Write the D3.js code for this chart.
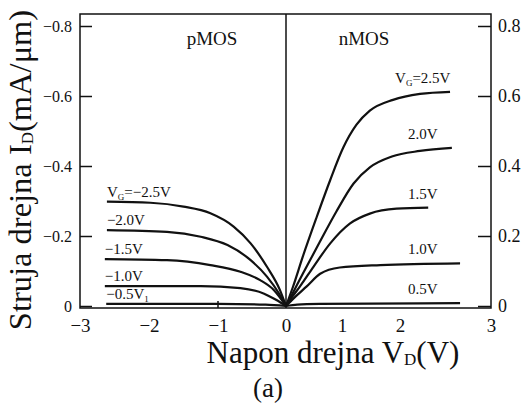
<!DOCTYPE html>
<html>
<head>
<meta charset="utf-8">
<script src="https://cdn.jsdelivr.net/npm/d3@7"></script>
<style>
body { margin: 0; background: #fff; }
text { font-family: "Liberation Serif", "Times New Roman", serif; fill: #111; }
</style>
</head>
<body>
<svg></svg>
<script>
width = 527;
height = 407;

// drain voltage V_D (V) and drain current I_D (mA/um)
nmos25 = [[0, 0], [0.125, 0.055], [0.3, 0.141], [0.55, 0.255], [0.79, 0.36], [1.02, 0.452], [1.25, 0.518], [1.48, 0.558], [1.88, 0.589], [2.22, 0.606], [2.55, 0.612]];
nmos20 = [[0, 0], [0.15, 0.046], [0.3, 0.092], [0.6, 0.182], [0.9, 0.27], [1.2, 0.35], [1.48, 0.396], [1.86, 0.427], [2.22, 0.443], [2.57, 0.452]];
nmos15 = [[0, 0], [0.12, 0.028], [0.25, 0.056], [0.49, 0.112], [0.79, 0.179], [1.14, 0.236], [1.48, 0.264], [1.94, 0.278], [2.31, 0.281]];
nmos10 = [[0, 0], [0.15, 0.024], [0.37, 0.056], [0.61, 0.092], [0.96, 0.11], [1.66, 0.117], [2.66, 0.122]];
nmos05 = [[0, 0], [0.2, 0.004], [0.6, 0.006], [1.5, 0.007], [2.66, 0.008]];

pmos25 = [[-2.61, -0.298], [-1.98, -0.295], [-1.5, -0.284], [-1.11, -0.265], [-0.77, -0.227], [-0.52, -0.179], [-0.28, -0.112], [-0.09, -0.046], [0, 0]];
pmos20 = [[-2.61, -0.217], [-1.74, -0.212], [-1.25, -0.198], [-0.86, -0.174], [-0.52, -0.131], [-0.28, -0.084], [-0.1, -0.035], [0, 0]];
pmos15 = [[-2.64, -0.134], [-1.74, -0.131], [-1.11, -0.117], [-0.67, -0.098], [-0.38, -0.074], [-0.18, -0.046], [0, 0]];
pmos10 = [[-2.64, -0.057], [-1.25, -0.057], [-0.67, -0.051], [-0.33, -0.036], [-0.14, -0.017], [0, 0]];
pmos05 = [[-2.62, -0.006], [-1.0, -0.006], [-0.3, -0.004], [0, 0]];

nmosCurves = [nmos25, nmos20, nmos15, nmos10, nmos05];
pmosCurves = [pmos25, pmos20, pmos15, pmos10, pmos05];
nmosLabels = ['2.5V', '2.0V', '1.5V', '1.0V', '0.5V'];
pmosLabels = ['\u22122.5V', '\u22122.0V', '\u22121.5V', '\u22121.0V', '\u22120.5V'];

xTicks = [-3, -2, -1, 0, 1, 2, 3];
yTicksR = [0, 0.2, 0.4, 0.6, 0.8];
yTicksL = [0, -0.2, -0.4, -0.6, -0.8];

boxL = 80; boxR = 491; boxT = 14; boxB = 308;

svg = d3.select('svg')
  .attr('width', width)
  .attr('height', height);

// the scanned axis is not quite even, so the scale follows the printed ticks
x = d3.scaleLinear().domain(xTicks).range([80, 149, 218, 286, 342, 400, 491]);
yR = d3.scaleLinear().domain([0, 0.8]).range([306, 26]);
yL = d3.scaleLinear().domain([0, -0.8]).range([306, 26]);

fmt = d => d === 0 ? '0' : d3.format('.1f')(d);

// frame
svg.append('rect')
  .attr('x', boxL).attr('y', boxT)
  .attr('width', boxR - boxL).attr('height', boxB - boxT)
  .attr('fill', 'none').attr('stroke', '#111').attr('stroke-width', 1.5);

svg.append('line')
  .attr('x1', x(0)).attr('x2', x(0))
  .attr('y1', boxT).attr('y2', boxB)
  .attr('stroke', '#111').attr('stroke-width', 1.5);

// axes
gl = svg.append('g').attr('transform', `translate(${boxL},0)`)
  .style('color', '#111')
  .call(d3.axisLeft(yL).tickValues(yTicksL).tickSizeInner(-12).tickSizeOuter(0).tickPadding(8).tickFormat(fmt));
gl.select('.domain').remove();
gl.selectAll('line').attr('stroke-width', 1.5);
gl.selectAll('text').style('font-size', '16px');

gr = svg.append('g').attr('transform', `translate(${boxR},0)`)
  .style('color', '#111')
  .call(d3.axisRight(yR).tickValues(yTicksR).tickSizeInner(-13).tickSizeOuter(0).tickPadding(7).tickFormat(fmt));
gr.select('.domain').remove();
gr.selectAll('line').attr('stroke-width', 1.5);
gr.selectAll('text').style('font-size', '18px');

gb = svg.append('g').attr('transform', `translate(0,${boxB})`)
  .style('color', '#111')
  .call(d3.axisBottom(x).tickValues(xTicks).tickSize(0).tickPadding(11).tickFormat(d3.format('d')));
gb.select('.domain').remove();
gb.selectAll('text').style('font-size', '19px');

svg.append('line')
  .attr('x1', x(-1)).attr('x2', x(-1))
  .attr('y1', boxB).attr('y2', boxB - 7)
  .attr('stroke', '#111').attr('stroke-width', 1.5);

// curves
lineN = d3.line().x(d => x(d[0])).y(d => yR(d[1])).curve(d3.curveMonotoneX);
lineP = d3.line().x(d => x(d[0])).y(d => yL(d[1])).curve(d3.curveMonotoneX);

svg.selectAll('path.n')
  .data(nmosCurves)
  .enter().append('path')
  .attr('class', 'n')
  .attr('d', lineN)
  .attr('fill', 'none').attr('stroke', '#111').attr('stroke-width', 2.2);

svg.selectAll('path.p')
  .data(pmosCurves)
  .enter().append('path')
  .attr('class', 'p')
  .attr('d', lineP)
  .attr('fill', 'none').attr('stroke', '#111').attr('stroke-width', 2.2);

// curve labels
nl = svg.selectAll('text.nl')
  .data(nmosCurves)
  .enter().append('text')
  .attr('class', 'nl')
  .attr('x', x(2.25))
  .attr('y', d => yR(d[d.length - 1][1]) - 9)
  .attr('text-anchor', 'middle')
  .style('font-size', '15px');
nl.filter((d, i) => i === 0).append('tspan').text('V');
nl.filter((d, i) => i === 0).append('tspan').text('G').style('font-size', '9px').attr('dy', 3);
nl.filter((d, i) => i === 0).append('tspan').text('=').attr('dy', -3);
nl.append('tspan').text((d, i) => nmosLabels[i]);

pl = svg.selectAll('text.pl')
  .data(pmosCurves)
  .enter().append('text')
  .attr('class', 'pl')
  .attr('x', d => x(d[0][0]))
  .attr('y', d => yL(d[0][1]) - 5)
  .style('font-size', '15px');
pl.filter((d, i) => i === 0).append('tspan').text('V');
pl.filter((d, i) => i === 0).append('tspan').text('G').style('font-size', '9px').attr('dy', 3);
pl.filter((d, i) => i === 0).append('tspan').text('=').attr('dy', -3);
pl.append('tspan').text((d, i) => pmosLabels[i]);
pl.filter((d, i) => i === 4).append('tspan').text('1').style('font-size', '9px').attr('dy', 3);

// region titles
svg.append('text').attr('x', 212).attr('y', 45).attr('text-anchor', 'middle')
  .style('font-size', '19px').text('pMOS');
svg.append('text').attr('x', 364).attr('y', 45).attr('text-anchor', 'middle')
  .style('font-size', '19px').text('nMOS');

// axis titles
yt = svg.append('text')
  .attr('transform', 'translate(31,170) rotate(-90)')
  .attr('text-anchor', 'middle')
  .style('font-size', '32.5px');
yt.append('tspan').text('Struja drejna I');
yt.append('tspan').text('D').style('font-size', '17px').attr('dy', 2);
yt.append('tspan').text('(mA/\u03bcm)').attr('dy', -2);

xt = svg.append('text')
  .attr('x', 333).attr('y', 363)
  .attr('text-anchor', 'middle')
  .style('font-size', '31px');
xt.append('tspan').text('Napon drejna V');
xt.append('tspan').text('D').style('font-size', '17px').attr('dy', 2);
xt.append('tspan').text('(V)').attr('dy', -2);

svg.append('text').attr('x', 268).attr('y', 397).attr('text-anchor', 'middle')
  .style('font-size', '27px').text('(a)');
</script>
</body>
</html>
